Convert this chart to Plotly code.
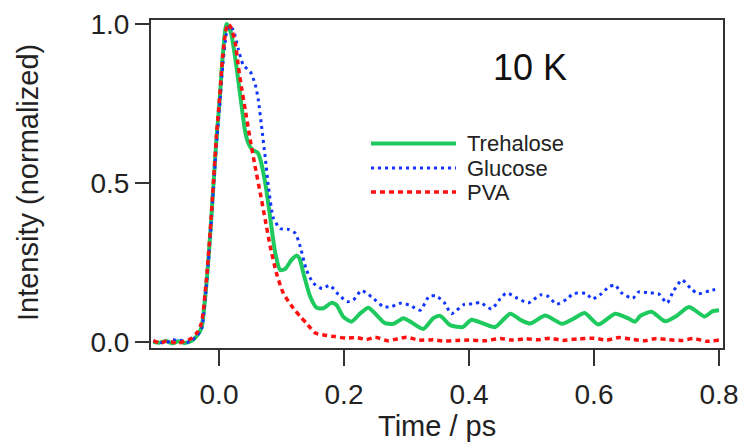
import plotly.graph_objects as go

# ---- data ----
tre_t = [-0.105, -0.095, -0.085, -0.075, -0.065, -0.055, -0.045, -0.035, -0.028, -0.02, -0.014, -0.009,
         -0.004, 0.001, 0.006, 0.012, 0.016, 0.020, 0.028, 0.035, 0.042, 0.047, 0.053, 0.058, 0.062, 0.066,
         0.074, 0.082, 0.09, 0.098, 0.106, 0.116, 0.124, 0.129, 0.135, 0.146, 0.156, 0.167, 0.18, 0.188,
         0.199, 0.212, 0.226, 0.239, 0.252, 0.265, 0.279, 0.295, 0.306, 0.327, 0.343, 0.354, 0.37, 0.39,
         0.404, 0.423, 0.442, 0.466, 0.484, 0.498, 0.522, 0.549, 0.567, 0.585, 0.607, 0.634, 0.655, 0.666,
         0.674, 0.692, 0.714, 0.732, 0.752, 0.777, 0.79, 0.80]
tre_y = [0.0, -0.002, 0.003, -0.004, 0.002, -0.003, 0.002, 0.02, 0.045, 0.185, 0.34, 0.49,
         0.64, 0.76, 0.90, 1.0, 0.99, 0.965, 0.865, 0.76, 0.66, 0.625, 0.605, 0.60, 0.595, 0.575,
         0.50, 0.39, 0.28, 0.226, 0.23, 0.258, 0.272, 0.262, 0.217, 0.142, 0.108, 0.106, 0.123, 0.116,
         0.079, 0.064, 0.09, 0.108, 0.085, 0.06, 0.057, 0.075, 0.064, 0.041, 0.075, 0.082, 0.053, 0.047,
         0.07, 0.058, 0.047, 0.089, 0.068, 0.058, 0.083, 0.057, 0.073, 0.091, 0.055, 0.089, 0.074, 0.064,
         0.082, 0.095, 0.065, 0.082, 0.11, 0.08, 0.097, 0.10]

glu_t = [-0.105, -0.095, -0.085, -0.075, -0.068, -0.06, -0.052, -0.045, -0.035, -0.028, -0.02, -0.014,
         -0.009, -0.004, 0.001, 0.006, 0.012, 0.017, 0.023, 0.031, 0.039, 0.05, 0.058, 0.063, 0.068, 0.074,
         0.079, 0.087, 0.098, 0.111, 0.122, 0.13, 0.14, 0.151, 0.165, 0.177, 0.191, 0.205, 0.215, 0.228,
         0.244, 0.263, 0.276, 0.29, 0.305, 0.322, 0.336, 0.347, 0.36, 0.372, 0.392, 0.406, 0.418, 0.436,
         0.45, 0.46, 0.478, 0.495, 0.514, 0.526, 0.54, 0.556, 0.567, 0.588, 0.597, 0.612, 0.624, 0.634,
         0.643, 0.662, 0.671, 0.69, 0.703, 0.717, 0.727, 0.741, 0.756, 0.767, 0.785, 0.80]
glu_y = [0.002, 0.0, -0.004, 0.008, 0.004, 0.005, -0.002, 0.003, 0.02, 0.04, 0.18, 0.33,
         0.48, 0.62, 0.74, 0.87, 0.97, 0.995, 0.98, 0.92, 0.87, 0.85, 0.81, 0.76, 0.68, 0.58,
         0.49, 0.39, 0.357, 0.354, 0.342, 0.30, 0.226, 0.185, 0.168, 0.178, 0.15, 0.127, 0.132, 0.162,
         0.142, 0.111, 0.111, 0.122, 0.116, 0.10, 0.143, 0.145, 0.125, 0.089, 0.118, 0.12, 0.124, 0.104,
         0.136, 0.154, 0.137, 0.123, 0.148, 0.144, 0.119, 0.134, 0.152, 0.152, 0.135, 0.152, 0.174, 0.179,
         0.156, 0.137, 0.157, 0.154, 0.152, 0.123, 0.16, 0.195, 0.166, 0.152, 0.161, 0.168]

pva_t = [-0.105, -0.095, -0.085, -0.075, -0.065, -0.055, -0.045, -0.035, -0.028, -0.02, -0.014, -0.009,
         -0.004, 0.001, 0.006, 0.011, 0.015, 0.02, 0.026, 0.031, 0.036, 0.042, 0.05, 0.058, 0.066, 0.074,
         0.082, 0.092, 0.103, 0.119, 0.13, 0.14, 0.154, 0.17, 0.185, 0.204, 0.22, 0.236, 0.25, 0.27,
         0.286, 0.3, 0.32, 0.343, 0.36, 0.38, 0.4, 0.425, 0.45, 0.47, 0.49, 0.51, 0.53, 0.55, 0.575,
         0.6, 0.62, 0.64, 0.66, 0.68, 0.7, 0.72, 0.74, 0.76, 0.78, 0.80]
pva_y = [0.004, -0.003, 0.002, 0.0, -0.004, 0.003, 0.01, 0.03, 0.06, 0.2, 0.35, 0.50,
         0.65, 0.77, 0.90, 0.98, 1.0, 0.985, 0.94, 0.866, 0.80, 0.73, 0.635, 0.55, 0.468, 0.384,
         0.30, 0.216, 0.153, 0.106, 0.08, 0.059, 0.028, 0.021, 0.017, 0.012, 0.014, 0.008, 0.015, 0.004,
         0.01, 0.015, 0.006, 0.007, 0.003, 0.005, 0.006, 0.004, 0.011, 0.006, 0.01, 0.007, 0.012, 0.005,
         0.01, 0.012, 0.006, 0.014, 0.009, 0.004, 0.011, 0.007, 0.005, 0.011, 0.002, 0.006]

series_names = ["Trehalose", "Glucose", "PVA"]
x_ticks = [0.0, 0.2, 0.4, 0.6, 0.8]
y_ticks = [0.0, 0.5, 1.0]
panel_label = "10 K"
x_title = "Time / ps"
y_title = "Intensity (normalized)"

# ---- styling ----
FONT = "Liberation Sans, Arial, Helvetica, sans-serif"
GREEN = "#1ec95e"
BLUE = "#1236ff"
RED = "#ff1111"
AX = "#333333"

W, H = 742, 443
L, R, T, B = 151, 19, 20, 95
PW, PH = W - L - R, H - T - B

def px_to_paper_x(px):
    return (px - L) / PW

def px_to_paper_y(py):
    return (H - B - py) / PH

styles = [
    dict(color=GREEN, width=4, dash="solid"),
    dict(color=BLUE, width=3, dash="3px,4px"),
    dict(color=RED, width=3.5, dash="5px,4px"),
]
data = [(tre_t, tre_y), (glu_t, glu_y), (pva_t, pva_y)]

fig = go.Figure()
for i in range(3):
    t, y = data[i]
    fig.add_trace(go.Scatter(x=t, y=y, mode="lines", name=series_names[i],
                             line=dict(shape="spline", smoothing=0.6, **styles[i]),
                             showlegend=False))

# custom legend (long line samples, no box)
leg_rows = [143.5, 168, 192]
for i, ry in enumerate(leg_rows):
    fig.add_shape(type="line", xref="paper", yref="paper",
                  x0=px_to_paper_x(371), x1=px_to_paper_x(456),
                  y0=px_to_paper_y(ry), y1=px_to_paper_y(ry),
                  line=styles[i])
    fig.add_annotation(x=px_to_paper_x(465), y=px_to_paper_y(ry), xref="paper", yref="paper",
                       text=series_names[i], showarrow=False, xanchor="left", yanchor="middle",
                       font=dict(family=FONT, size=22, color="#222222"))

fig.add_annotation(x=px_to_paper_x(530), y=px_to_paper_y(67), xref="paper", yref="paper",
                   text=panel_label, showarrow=False, xanchor="center", yanchor="middle",
                   font=dict(family=FONT, size=36, color="#111111"))

fig.add_annotation(x=px_to_paper_x(437), y=px_to_paper_y(426), xref="paper", yref="paper",
                   text=x_title, showarrow=False, xanchor="center", yanchor="middle",
                   font=dict(family=FONT, size=29, color="#222222"))
fig.add_annotation(x=px_to_paper_x(28), y=px_to_paper_y(183), xref="paper", yref="paper",
                   text=y_title, showarrow=False, textangle=-90, xanchor="center", yanchor="middle",
                   font=dict(family=FONT, size=29, color="#222222"))

fig.update_layout(
    width=W, height=H,
    margin=dict(l=L, r=R, t=T, b=B, pad=0, autoexpand=False),
    paper_bgcolor="white", plot_bgcolor="white",
    font=dict(family=FONT, size=28, color="#222222"),
    showlegend=False,
)
fig.update_xaxes(range=[-0.1088, 0.8064], tickvals=x_ticks, ticktext=[f"{v:.1f}" for v in x_ticks],
                 ticks="outside", ticklen=16, tickwidth=2, tickcolor=AX, automargin=False,
                 ticklabelstandoff=4,
                 showline=True, linewidth=2, linecolor=AX, mirror=True,
                 showgrid=False, zeroline=False,
                 tickfont=dict(family=FONT, size=28, color="#222222"))
fig.update_yaxes(range=[-0.0189, 1.0126], tickvals=y_ticks, ticktext=[f"{v:.1f}" for v in y_ticks],
                 ticks="outside", ticklen=14, tickwidth=2, tickcolor=AX, automargin=False,
                 showline=True, linewidth=2, linecolor=AX, mirror=True,
                 showgrid=False, zeroline=False,
                 tickfont=dict(family=FONT, size=28, color="#222222"))

fig.write_html("out.html", config={"displayModeBar": False},
               post_script="document.body.style.margin='0px';document.body.style.overflow='hidden';")
